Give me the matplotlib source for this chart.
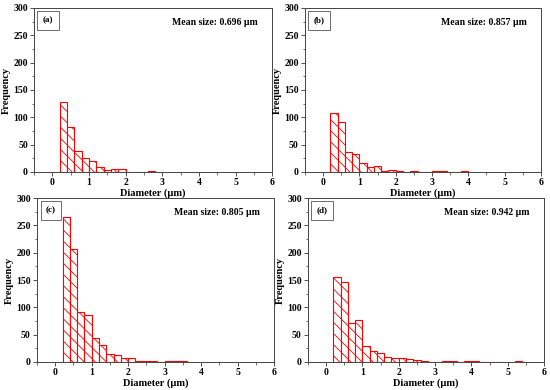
import matplotlib
matplotlib.use("Agg")
from matplotlib import pyplot as plt
from matplotlib.ticker import MultipleLocator
import numpy as np

plt.rcParams['font.family'] = ['Liberation Serif', 'DejaVu Serif']
plt.rcParams['font.weight'] = 'bold'
plt.rcParams['hatch.linewidth'] = 0.6

bin_width = 0.2
# left edges start at 0.2 um
counts_a = [128, 82, 38, 25, 20, 9, 3, 5, 5, 0, 0, 0, 1]
counts_b = [107, 91, 37, 32, 16, 9, 11, 2, 3, 1, 0, 2, 0, 0, 2, 1, 0, 0, 2]
counts_c = [266, 207, 91, 86, 44, 32, 15, 13, 7, 8, 1, 2, 1, 0, 1, 2, 1]
counts_d = [155, 146, 72, 77, 30, 21, 17, 10, 7, 7, 6, 3, 2, 0, 0, 1, 1, 0, 1, 1,
            0, 0, 0, 0, 0, 1]

panel_labels = ["(a)", "(b)", "(c)", "(d)"]
mean_sizes = ["0.696", "0.857", "0.805", "0.942"]
all_counts = [counts_a, counts_b, counts_c, counts_d]

positions = [
    [0.062, 0.559, 0.433, 0.4205],
    [0.5545, 0.559, 0.429, 0.4205],
    [0.0673, 0.0718, 0.431, 0.4205],
    [0.56, 0.0718, 0.429, 0.4205],
]

fig = plt.figure(figsize=(5.5, 3.9), dpi=100)

for pos, counts, lab, mean in zip(positions, all_counts, panel_labels, mean_sizes):
    ax = fig.add_axes(pos)
    edges = 0.2 + bin_width * np.arange(len(counts))
    ax.bar(edges, counts, width=bin_width, align='edge', facecolor='white',
           edgecolor='red', linewidth=0.8, hatch='\\\\\\')
    ax.set_xlim(-0.5, 6)
    ax.set_ylim(0, 300)
    ax.xaxis.set_major_locator(MultipleLocator(1))
    ax.xaxis.set_minor_locator(MultipleLocator(0.5))
    ax.yaxis.set_major_locator(MultipleLocator(50))
    ax.yaxis.set_minor_locator(MultipleLocator(25))
    ax.tick_params(which='major', direction='out', length=3, width=0.6,
                   labelsize=7, pad=1.5, colors='#333333', labelcolor='black')
    ax.tick_params(which='minor', direction='out', length=1.8, width=0.5,
                   colors='#333333')
    for s in ax.spines.values():
        s.set_color('#444444')
        s.set_linewidth(0.7)
    ax.set_xlabel("Diameter (μm)", fontsize=7.5, fontweight='bold', labelpad=1)
    ax.set_ylabel("Frequency", fontsize=7.5, fontweight='bold', labelpad=1.5)
    ax.text(0.94, 0.91, f"Mean size: {mean} μm", transform=ax.transAxes,
            ha='right', va='center', fontsize=7, fontweight='bold')
    ax.text(0.059, 0.924, lab, transform=ax.transAxes, ha='center', va='center',
            fontsize=6.5, fontweight='bold',
            bbox=dict(boxstyle='square,pad=0.6', facecolor='white',
                      edgecolor='#555555', linewidth=0.6))

fig.savefig("out.png", dpi=100)
